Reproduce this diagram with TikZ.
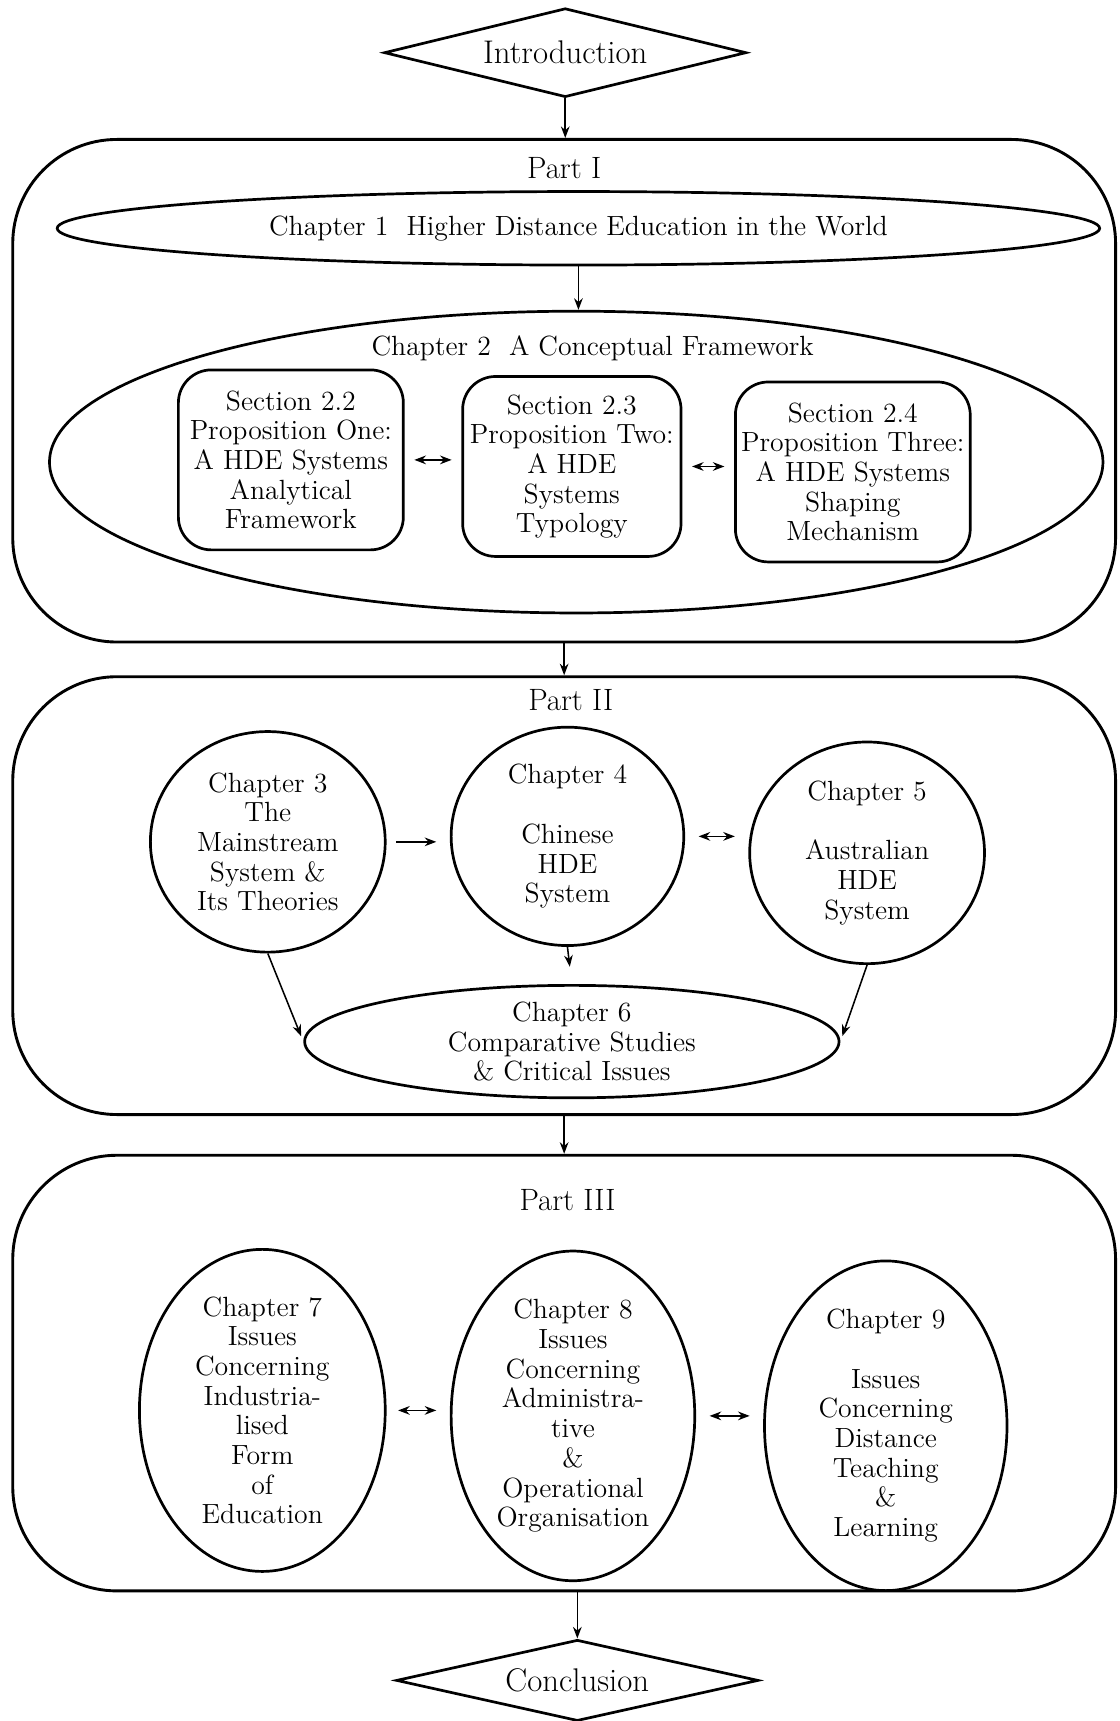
\documentclass[tikz,border=0pt]{standalone}
\usetikzlibrary{shapes.geometric,arrows.meta}
\begin{document}
\begin{tikzpicture}[x=0.02cm, y=-0.02cm,
  >={Stealth[length=6pt,width=4.5pt]},
  every node/.style = {align=center, inner sep=1pt,
    font=\fontsize{14.4}{15.4}\selectfont}]
    \tikzstyle{part box}=[draw, line width=1.5pt, rounded corners=1.9cm, minimum width=20.1cm]
    \tikzstyle{part title}=[font=\fontsize{16}{18}\selectfont]
    \tikzstyle{end box}=[draw, diamond, line width=1.4pt, minimum width=6.6cm,
      font=\fontsize{17}{20}\selectfont]
    \tikzstyle{chapter}=[draw, ellipse, line width=1.4pt, inner sep=0pt]
    \tikzstyle{section box}=[draw, rectangle, rounded corners=0.6cm, line width=1.4pt,
      minimum width=4.1cm, minimum height=3.28cm]
    \tikzstyle{one way}=[->, line width=0.8pt]
    \tikzstyle{two way}=[<->, line width=0.8pt, shorten <=5pt, shorten >=5pt]
  \useasboundingbox (0,0) rectangle (1020,1568);
  \node[end box, aspect=4.1, minimum height=1.62cm] (intro) at (515,48) {Introduction};
  \node[part box, minimum height=9.16cm] (partI) at (514,356) {};
  \node[part title] (partItitle) at (514,153) {Part I};
  \node[chapter, minimum width=19cm, minimum height=1.34cm] (ch1) at (527,208)
    {Chapter 1\ \ Higher Distance Education in the World};
  \node[chapter, minimum width=19.2cm, minimum height=5.5cm] (ch2) at (525,421) {};
  \node (ch2title) at (540,317) {Chapter 2\ \ A Conceptual Framework};
  \node[section box] (s22) at (265,419)
    {Section 2.2\\Proposition One:\\A HDE Systems\\Analytical\\Framework};
  \node[section box, minimum width=3.98cm] (s23) at (521,425)
    {Section 2.3\\Proposition Two:\\A HDE\\Systems\\Typology};
  \node[section box, minimum width=4.28cm] (s24) at (777,430)
    {Section 2.4\\Proposition Three:\\A HDE Systems\\Shaping\\Mechanism};
  \node[part box, minimum height=7.98cm] (partII) at (514,816) {};
  \node[part title] (partIItitle) at (520,638) {Part II};
  \node[chapter, minimum width=4.28cm, minimum height=4.02cm] (ch3) at (244,767)
    {Chapter 3\\The\\Mainstream\\System \&\\Its Theories};
  \node[chapter, minimum width=4.24cm, minimum height=3.98cm] (ch4) at (517,762)
    {Chapter 4\\[15.4pt]Chinese\\HDE\\System};
  \node[chapter, minimum width=4.28cm, minimum height=4.04cm] (ch5) at (790,777)
    {Chapter 5\\[15.4pt]Australian\\HDE\\System};
  \node[chapter, minimum width=9.74cm, minimum height=2.04cm] (ch6) at (521,949)
    {Chapter 6\\Comparative Studies\\\& Critical Issues};
  \node[part box, minimum height=7.94cm] (partIII) at (514,1251) {};
  \node[part title] (partIIItitle) at (517,1093) {Part III};
  \node[chapter, minimum width=4.48cm, minimum height=5.6cm] (ch7) at (239,1285)
    {Chapter 7\\Issues\\Concerning\\Industria-\\lised\\Form\\of\\Education};
  \node[chapter, minimum width=4.44cm, minimum height=5.66cm] (ch8) at (522,1290)
    {Chapter 8\\Issues\\Concerning\\Administra-\\tive\\\&\\Operational\\Organisation};
  \node[chapter, minimum width=4.42cm, minimum height=5.68cm] (ch9) at (807,1299)
    {Chapter 9\\[15.4pt]Issues\\Concerning\\Distance\\Teaching\\\&\\Learning};
  \node[end box, aspect=4.45, minimum height=1.48cm] (concl) at (526,1531) {Conclusion};
  \draw[one way] (intro.south) -- (intro.south |- partI.north);
  \draw[one way] (ch1.south) -- (ch1.south |- ch2.north);
  \draw[two way] (s22.east) -- (s22.east -| s23.west);
  \draw[two way] (s23.east) -- (s23.east -| s24.west);
  \draw[one way] (partI.south) -- (partII.north);
  \draw[one way, shorten <=5pt, shorten >=7pt] (ch3.east) -- (ch3.east -| ch4.west);
  \draw[two way, shorten <=7pt, shorten >=7pt] (ch4.east) -- (ch4.east -| ch5.west);
  \draw[one way, shorten >=9pt] (ch4.south) -- (ch6.north);
  \draw[one way, shorten >=3pt] (ch3.south) -- (ch6.west);
  \draw[one way, shorten >=3pt] (ch5.south) -- (ch6.east);
  \draw[one way] (partII.south) -- (partIII.north);
  \draw[two way, shorten <=6pt, shorten >=7pt] (ch7.east) -- (ch7.east -| ch8.west);
  \draw[two way, shorten <=7pt, shorten >=7pt] (ch8.east) -- (ch8.east -| ch9.west);
  \draw[one way] (concl.north |- partIII.south) -- (concl.north);
\end{tikzpicture}
\end{document}
